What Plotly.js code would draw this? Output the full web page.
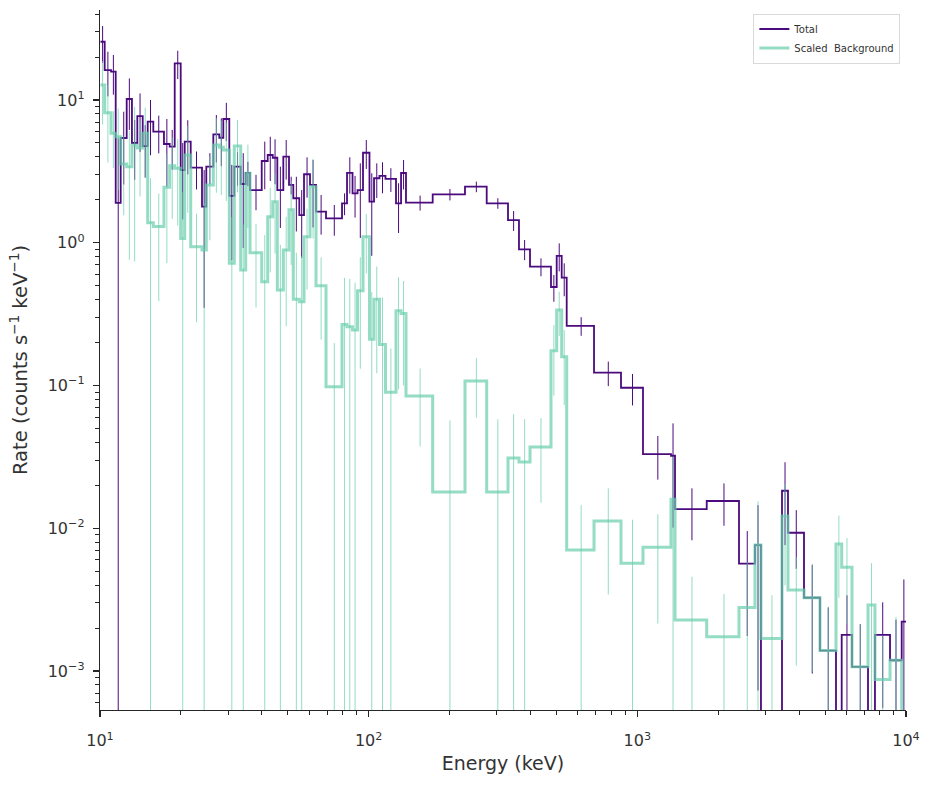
<!DOCTYPE html>
<html><head><meta charset="utf-8">
<script src="https://cdn.plot.ly/plotly-3.0.1.min.js"></script>
<style>html,body{margin:0;padding:0;background:#fff}#chart{width:931px;height:786px}</style>
</head><body><div id="chart"></div>
<script>
// Bin edges (keV)
const energyEdges = [10.04, 10.41, 10.99, 11.44, 11.94, 12.57, 13.15, 13.77, 14.42, 15.05, 15.79, 17.30, 18.17, 18.97, 19.97, 20.67, 21.76, 23.97, 24.87, 26.41, 27.80, 28.77, 30.29, 31.61, 33.40, 34.86, 36.17, 39.99, 42.10, 43.95, 45.71, 48.12, 50.52, 52.42, 55.19, 57.46, 60.49, 63.68, 69.38, 79.58, 83.07, 87.09, 90.90, 95.26, 100.7, 104.7, 109.7, 115.5, 126.4, 132.0, 137.7, 173.1, 228.3, 275.0, 330.1, 362.6, 398.6, 477.1, 501.0, 523.0, 545.9, 689.9, 869.4, 1049.7, 1334.6, 1381.1, 1812.6, 2390, 2741, 2885, 3455, 3637, 4172, 4784, 5488, 5763, 6295, 7221, 7664, 8719, 9637, 10000];

// Total rate per bin (counts s^-1 keV^-1)
const totalRate = [25.6, 16.2, 15.8, 1.90, 5.42, 10.16, 5.00, 7.72, 4.76, 7.05, 6.00, 4.92, 4.71, 18.07, 3.23, 5.11, 3.36, 1.79, 3.41, 5.75, 5.44, 7.36, 2.13, 3.41, 2.58, 3.09, 2.34, 3.74, 4.12, 3.94, 2.34, 4.01, 2.54, 2.05, 1.56, 3.02, 2.54, 1.65, 1.48, 1.89, 3.09, 2.22, 2.34, 4.27, 1.94, 2.83, 2.94, 2.80, 1.89, 3.08, 1.91, 2.18, 2.47, 1.89, 1.44, 0.90, 0.68, 0.49, 0.81, 0.57, 0.262, 0.123, 0.0965, 0.0331, 0.0322, 0.01364, 0.01552, 0.00566, 0.00763, 0, 0.01832, 0.00930, 0.00326, 0.00139, 0, 0.00179, 0.00107, 0, 0.00179, 0.00119, 0.00222];
const totalErr = [7.4, 5.6, 4.9, 3.5, 2.86, 4.0, 2.24, 3.4, 1.9, 2.95, 1.77, 2.44, 1.46, 4.06, 1.77, 2.1, 1.0, 1.44, 0.83, 2.1, 2.0, 2.2, 1.38, 0.9, 1.66, 0.6, 0.65, 1.37, 1.41, 1.37, 1.07, 1.24, 0.36, 0.85, 0.78, 0.95, 1.26, 0.51, 0.36, 0.33, 0.88, 0.72, 1.26, 0.98, 1.13, 0.77, 0.72, 0.53, 0.72, 0.72, 0.23, 0.2, 0.21, 0.16, 0.23, 0.145, 0.098, 0.104, 0.18, 0.148, 0.039, 0.024, 0.024, 0.0112, 0.0221, 0.0054, 0.0051, 0.0039, 0.0069, 0, 0.0107, 0.0041, 0.0023, 0.0014, 0, 0.0016, 0.00106, 0, 0.00124, 0.0011, 0.00216];

// Scaled background rate per bin
const bkgRate = [12.74, 8.15, 5.84, 5.53, 3.56, 3.41, 4.84, 4.61, 5.84, 1.38, 1.30, 2.45, 3.47, 3.32, 1.07, 4.12, 0.938, 0.890, 2.54, 4.84, 4.66, 4.46, 0.718, 4.76, 0.644, 3.07, 0.852, 0.534, 1.52, 1.94, 0.467, 0.890, 1.70, 0.402, 0.386, 1.10, 2.47, 0.500, 0.0981, 0.268, 0.258, 0.245, 0.461, 1.10, 0.211, 0.402, 0.194, 0.0896, 0.334, 0.320, 0.0844, 0.01795, 0.1075, 0.01795, 0.0311, 0.0291, 0.0371, 0.175, 0.338, 0.159, 0.00704, 0.01124, 0.00568, 0.00735, 0.01595, 0.00228, 0.00174, 0.00279, 0.00763, 0.00169, 0.01218, 0.00369, 0.00326, 0.00139, 0.00776, 0.00533, 0.00107, 0.00290, 0.000874, 0.00119, 0];
const bkgErr = [6, 4.5, 2.5, 3.2, 2.0, 2.65, 4.1, 2.5, 3.0, 1.45, 0.91, 1.73, 2.0, 2.0, 1.2, 2.5, 0.66, 1.0, 1.5, 2.6, 2.5, 2.5, 0.8, 2.5, 0.7, 1.8, 0.5, 0.6, 0.9, 1.1, 0.5, 0.63, 1.0, 0.45, 0.42, 0.63, 1.4, 0.29, 0.1, 0.3, 0.3, 0.28, 0.33, 0.49, 0.24, 0.28, 0.22, 0.092, 0.24, 0.22, 0.047, 0.039, 0.048, 0.04, 0.032, 0.029, 0.022, 0.09, 0.116, 0.086, 0.0075, 0.0078, 0.0058, 0.0052, 0.0158, 0.0023, 0.00172, 0.003, 0.0078, 0.0017, 0.0082, 0.0026, 0.00227, 0.00143, 0.0045, 0.0032, 0.00106, 0.0028, 0.0009, 0.0012, 0];

const seriesNames = ['Total', 'Scaled \u00a0Background'];
const xTickVals = [10, 100, 1000, 10000];
const xTickText = ['10<sup>1</sup>', '10<sup>2</sup>', '10<sup>3</sup>', '10<sup>4</sup>'];
const yTickVals = [0.001, 0.01, 0.1, 1, 10];
const yTickText = ['10<sup>\u22123</sup>', '10<sup>\u22122</sup>', '10<sup>\u22121</sup>', '10<sup>0</sup>', '10<sup>1</sup>'];

// ---- build traces ----
const FLOOR = 1e-9; // empty bins drop off the bottom of the log axis
function stepY(v) {
  const y = v.map(a => a > 0 ? a : FLOOR);
  y.push(y[y.length - 1]);
  return y;
}
const centers = energyEdges.slice(0, -1).map((e, i) => (e + energyEdges[i + 1]) / 2);
function minorTicks(d0, d1) {
  const out = [];
  for (let d = d0; d <= d1; d++) for (let k = 2; k <= 9; k++) out.push(k * Math.pow(10, d));
  return out;
}

const cTotal = '#4b0a7d';
const cBkg = 'rgba(102,205,170,0.7)';

const traces = [
  { x: energyEdges, y: stepY(totalRate), type: 'scatter', mode: 'lines', line: { shape: 'hv', color: cTotal, width: 1.8 }, name: seriesNames[0], hoverinfo: 'skip' },
  { x: centers, y: totalRate.map(a => a > 0 ? a : null), type: 'scatter', mode: 'markers', marker: { size: 1, opacity: 0 }, showlegend: false, hoverinfo: 'skip',
    error_y: { type: 'data', array: totalErr, symmetric: true, color: cTotal, thickness: 1, width: 0 } },
  { x: energyEdges, y: stepY(bkgRate), type: 'scatter', mode: 'lines', line: { shape: 'hv', color: cBkg, width: 3 }, name: seriesNames[1], hoverinfo: 'skip' },
  { x: centers, y: bkgRate.map(a => a > 0 ? a : null), type: 'scatter', mode: 'markers', marker: { size: 1, opacity: 0 }, showlegend: false, hoverinfo: 'skip',
    error_y: { type: 'data', array: bkgErr, symmetric: true, color: cBkg, thickness: 1, width: 0 } }
];

const axisCol = '#262626';
const txtCol = '#333333';
const layout = {
  width: 931, height: 786,
  margin: { l: 100, r: 25, t: 10, b: 76 },
  paper_bgcolor: '#fff', plot_bgcolor: '#fff',
  font: { family: 'DejaVu Sans, sans-serif', color: txtCol },
  showlegend: true,
  hovermode: false,
  legend: { x: 0.993, y: 0.995, xanchor: 'right', yanchor: 'top', bgcolor: 'rgba(255,255,255,0.85)', bordercolor: '#d9d9d9', borderwidth: 1, font: { size: 10, color: txtCol }, itemwidth: 30, tracegroupgap: 0 },
  xaxis: {
    type: 'log', range: [1, 4], showgrid: false, zeroline: false,
    showline: true, linecolor: axisCol, linewidth: 1.25,
    ticks: 'outside', ticklen: 6, tickwidth: 1.25, tickcolor: axisCol,
    tickmode: 'array', tickvals: xTickVals, ticktext: xTickText,
    tickfont: { size: 16, color: txtCol }, ticklabelstandoff: 10,
    minor: { tickmode: 'array', tickvals: minorTicks(1, 3), ticks: 'outside', ticklen: 3.5, tickwidth: 1, tickcolor: axisCol, showgrid: false },
    title: { text: 'Energy (keV)', font: { size: 19, color: txtCol }, standoff: 7 },
    automargin: false
  },
  yaxis: {
    type: 'log', range: [-3.273, 1.6305], showgrid: false, zeroline: false,
    showline: true, linecolor: axisCol, linewidth: 1.25,
    ticks: 'outside', ticklen: 6, tickwidth: 1.25, tickcolor: axisCol,
    tickmode: 'array', tickvals: yTickVals, ticktext: yTickText,
    tickfont: { size: 16, color: txtCol }, ticklabelstandoff: 5,
    minor: { tickmode: 'array', tickvals: minorTicks(-4, 1), ticks: 'outside', ticklen: 3.5, tickwidth: 1, tickcolor: axisCol, showgrid: false },
    title: { text: 'Rate (counts s<sup>\u22121</sup> keV<sup>\u22121</sup>)', font: { size: 19.5, color: txtCol }, standoff: 14 },
    automargin: false
  }
};

Plotly.newPlot('chart', traces, layout, { displayModeBar: false, staticPlot: true });
</script>
</body></html>
